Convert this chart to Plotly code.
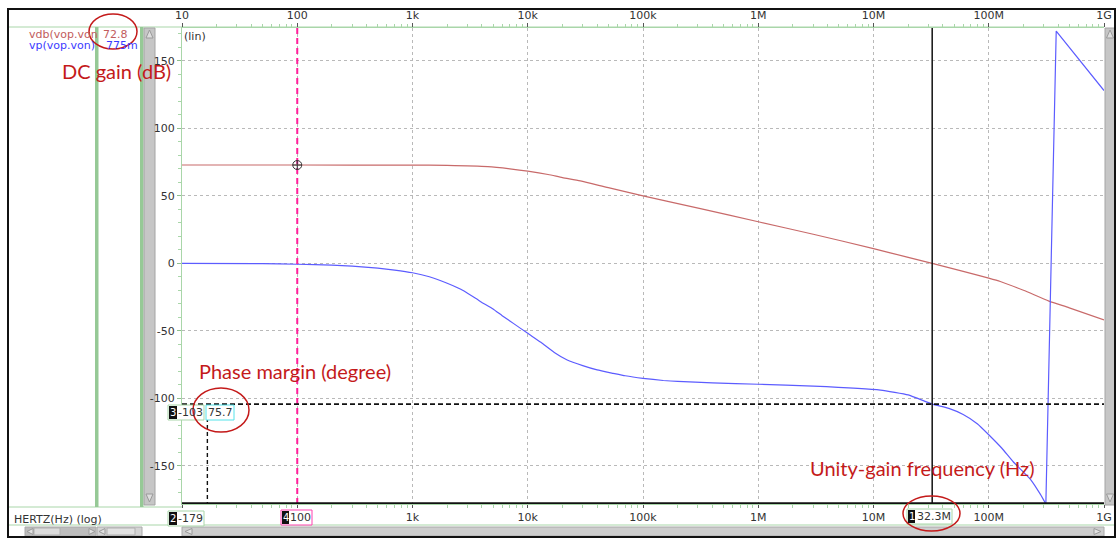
import plotly.graph_objects as go

# ---------------- data ----------------
freq_db = [10, 100, 1e3, 2e3, 4.5e3, 7e3, 1e4, 1.5e4, 2e4, 2.86e4, 5e4, 1e5, 3.15e5, 1e6,
           3e6, 1e7, 2e7, 3.23e7, 6e7, 1e8, 1.26e8, 2e8, 3.33e8, 5e8, 1e9]
vdb = [72.8, 72.8, 72.75, 72.5, 71.6, 70.0, 68.3, 65.8, 63.5, 61.0, 56.0, 50.0, 40.5, 30.8,
       21.5, 10.9, 4.4, 0.0, -6.0, -11.0, -13.5, -20.0, -28.0, -33.0, -42.0]

freq_ph = [10, 50, 100, 200, 300, 500, 700, 1e3, 1.4e3, 2e3, 2.8e3, 3.9e3, 5e3, 6e3, 7.5e3,
           1e4, 1.3e4, 1.7e4, 2.2e4, 3e4, 4e4, 5.5e4, 7e4, 1e5, 1.5e5, 2e5, 4e5, 1e6, 3e6,
           1.15e7, 2e7, 3.23e7, 4.5e7, 6e7, 8e7, 1e8, 1.3e8, 1.63e8, 2.3e8, 2.8e8, 3.13e8,
           3.85e8, 1e9]
vp = [0.0, -0.3, -0.7, -1.3, -2.1, -3.6, -5.0, -7.0, -10.0, -14.8, -20.5, -28.4, -33.8,
      -38.8, -44.5, -51.9, -58.5, -66.0, -71.6, -75.8, -79.0, -81.5, -83.3, -85.2, -86.8,
      -87.5, -88.6, -89.6, -91.0, -93.9, -97.5, -104.3, -107.5, -112.0, -119.0, -127.0,
      -137.0, -147.0, -160.0, -171.0, -178.3, 172.0, 128.0]
wrap_index = 40   # last sample before the phase wraps from -180 to +180

x_tick_vals = [1e1, 1e2, 1e3, 1e4, 1e5, 1e6, 1e7, 1e8, 1e9]
x_tick_text = ["10", "100", "1k", "10k", "100k", "1M", "10M", "100M", "1G"]
y_tick_vals = [-150, -100, -50, 0, 50, 100, 150]
y_tick_text = ["-150", "-100", "-50", "0", "50", "100", "150"]

cursor_freq = 100            # cursor 4 (vertical, magenta)
ugf_freq = 32.3e6            # cursor 1 (vertical, black)
pm_phase = -104.3            # cursor 3 (horizontal, dashed)
bottom_cursor = -177.8       # cursor 2 (horizontal, solid)
delta_freq = 16.6            # dashed delta marker
dc_gain = 72.8

Y_MIN, Y_MAX = -178.3, 174.3

# ---------------- geometry helpers (pixels -> paper) ----------------
L, R, T, B = 182, 1104, 28, 504
def px(x):
    return (x - L) / (R - L)
def py(y):
    return (B - y) / (B - T)

GREEN = "#a9d6a9"
GREEN_BAR = "#96c996"
TXT = "#333333"
RED_NOTE = "#c41a1a"
GUI_FONT = "DejaVu Sans"
BLUE = "#5c5cff"

fig = go.Figure()

fig.add_trace(go.Scatter(x=freq_db, y=vdb, mode="lines", line_shape="spline",
                         line=dict(color="#c86a6a", width=1.2, smoothing=0.6), hoverinfo="skip"))
fig.add_trace(go.Scatter(x=freq_ph[:wrap_index + 1], y=vp[:wrap_index + 1], mode="lines",
                         line_shape="spline",
                         line=dict(color=BLUE, width=1.2, smoothing=0.4), hoverinfo="skip"))
fig.add_trace(go.Scatter(x=freq_ph[wrap_index:], y=vp[wrap_index:], mode="lines",
                         line=dict(color=BLUE, width=1.2), hoverinfo="skip"))
# cursors
fig.add_trace(go.Scatter(x=[cursor_freq, cursor_freq], y=[Y_MIN, Y_MAX], mode="lines",
                         line=dict(color="#ff1e9a", width=2, dash="6px,4px")))
fig.add_trace(go.Scatter(x=[ugf_freq, ugf_freq], y=[Y_MIN, Y_MAX], mode="lines",
                         line=dict(color="#111111", width=1.5)))
fig.add_trace(go.Scatter(x=[x_tick_vals[0], x_tick_vals[-1]], y=[pm_phase, pm_phase],
                         mode="lines", line=dict(color="#111111", width=1.6, dash="5px,3px")))
fig.add_trace(go.Scatter(x=[delta_freq, delta_freq], y=[pm_phase, bottom_cursor],
                         mode="lines", line=dict(color="#111111", width=1.4, dash="4px,3px")))
fig.add_trace(go.Scatter(x=[x_tick_vals[0], x_tick_vals[-1]], y=[bottom_cursor, bottom_cursor],
                         mode="lines", line=dict(color="#111111", width=2.2)))
fig.add_trace(go.Scatter(x=[cursor_freq], y=[dc_gain], mode="markers",
                         marker=dict(symbol="circle-cross-open", size=9,
                                     color="#333333", line=dict(width=1))))
# dummy trace for top axis
fig.add_trace(go.Scatter(x=[x_tick_vals[0]], y=[0], xaxis="x2", mode="markers",
                         marker=dict(opacity=0), hoverinfo="skip"))

minor_vals = [d * m for d in x_tick_vals[:-1] for m in range(2, 10)]

shapes = []
def rect(x0, y0, x1, y1, fill=None, line=None, lw=1, layer="below"):
    shapes.append(dict(type="rect", xref="paper", yref="paper", layer=layer,
                       x0=px(x0), x1=px(x1), y0=py(y1), y1=py(y0),
                       fillcolor=fill if fill else "rgba(0,0,0,0)",
                       line=dict(color=line if line else "rgba(0,0,0,0)", width=lw if line else 0)))
def hline(x0, x1, y, color, w=1):
    shapes.append(dict(type="line", xref="paper", yref="paper", layer="below",
                       x0=px(x0), x1=px(x1), y0=py(y), y1=py(y), line=dict(color=color, width=w)))
def tri(pts, fill):
    path = "M " + " L ".join(f"{px(a)},{py(b)}" for a, b in pts) + " Z"
    shapes.append(dict(type="path", xref="paper", yref="paper", path=path, layer="below",
                       fillcolor=fill, line=dict(color="#9a9a9a", width=1)))
def ellipse(x0, y0, x1, y1):
    shapes.append(dict(type="circle", xref="paper", yref="paper", layer="above",
                       x0=px(x0), x1=px(x1), y0=py(y1), y1=py(y0),
                       line=dict(color=RED_NOTE, width=1.5)))

# GUI chrome
hline(9, 1104, 27, GREEN)
hline(9, 182, 507, GREEN)
hline(9, 1115, 525, GREEN)
rect(95, 27, 98.5, 507, fill=GREEN_BAR)
rect(140, 27, 143.5, 507, fill=GREEN_BAR)
# left vertical scrollbar
rect(144, 28, 155, 505, fill="#c6c6c6", line="#a4a4a4")
tri([(146, 38), (153, 38), (149.5, 30)], "#dedede")
tri([(146, 494), (153, 494), (149.5, 502)], "#dedede")
# right vertical scrollbar
rect(1105, 28, 1115, 505, fill="#c6c6c6", line="#a4a4a4")
tri([(1106.5, 38), (1113.5, 38), (1110, 30)], "#dedede")
tri([(1106.5, 494), (1113.5, 494), (1110, 502)], "#dedede")
# bottom scrollbars
rect(182, 527, 1104, 536, fill="#cdcdcd", line="#aaaaaa")
tri([(192, 528.5), (192, 534.5), (185, 531.5)], "#e2e2e2")
tri([(1094, 528.5), (1094, 534.5), (1101, 531.5)], "#e2e2e2")
rect(25, 527, 96, 536, fill="#bdbdbd", line="#aaaaaa")
rect(34, 528, 60, 535, fill="#dcdcdc", line="#b0b0b0")
tri([(33, 528.5), (33, 534.5), (27, 531.5)], "#e2e2e2")
tri([(89, 528.5), (89, 534.5), (95, 531.5)], "#e2e2e2")
rect(97, 527, 142, 536, fill="#d4d4d4", line="#aaaaaa")
rect(107, 528, 135, 535, fill="#e2e2e2", line="#b0b0b0")
tri([(105, 528.5), (105, 534.5), (99, 531.5)], "#e2e2e2")
# outer frame
rect(8, 9, 1115, 537, line="#111111", lw=2, layer="above")

# cursor value boxes
def box(x0, y0, x1, y1, border):
    rect(x0, y0, x1, y1, fill="white", line=border, layer="above")
def blk(x0, y0, x1, y1):
    rect(x0, y0, x1, y1, fill="#111111", layer="above")

box(168, 405, 204, 420, GREEN); blk(169, 406, 177, 419)
box(206, 405, 234, 420, "#55e3ea")
box(168, 511, 204, 526, GREEN); blk(169, 512, 177, 525)
box(281, 510, 312, 525, "#ff40b0"); blk(282, 511, 289, 524)
box(907, 509, 952, 524, GREEN); blk(908, 510, 915, 523)

# red notes ellipses
ellipse(89, 14, 137, 49)
ellipse(193, 388, 249, 432)
ellipse(903, 496, 960, 531)

ann = []
def text(x, y, s, color=TXT, size=11, anchor="left", family=GUI_FONT):
    ann.append(dict(xref="paper", yref="paper", x=px(x), y=py(y), text=s, showarrow=False,
                    xanchor=anchor, yanchor="middle",
                    font=dict(family=family, size=size, color=color)))

text(27, 35, "vdb(vop.von", color="#c25c5c")
text(101, 35, "72.8", color="#c25c5c")
text(27, 46, "vp(vop.von)", color="#3b3bff")
text(104, 46, "775m", color="#3b3bff")
text(182, 36, "(lin)")
text(12, 519, "HERTZ(Hz) (log)")
text(173, 412.5, "3", color="white", anchor="center", size=10)
text(190.5, 412.5, "-103", anchor="center")
text(220, 412.5, "75.7", anchor="center")
text(173, 518.5, "2", color="white", anchor="center", size=10)
text(190.5, 518.5, "-179", anchor="center")
text(285.5, 517.5, "4", color="white", anchor="center", size=10)
text(300.5, 517.5, "100", anchor="center")
text(911.5, 516.5, "1", color="white", anchor="center", size=10)
text(933.5, 516.5, "32.3M", anchor="center")
text(116, 71, "DC gain (dB)", color=RED_NOTE, size=20, anchor="center", family="Lato")
text(295, 371, "Phase margin (degree)", color=RED_NOTE, size=20, anchor="center", family="Lato")
text(922, 468, "Unity-gain frequency (Hz)", color=RED_NOTE, size=20, anchor="center", family="Lato")

tick_font = dict(family=GUI_FONT, size=11, color=TXT)

fig.update_layout(
    width=1116, height=539,
    margin=dict(l=L, r=1116 - R, t=T, b=539 - B),
    paper_bgcolor="white", plot_bgcolor="white",
    showlegend=False,
    shapes=shapes, annotations=ann,
    xaxis=dict(type="log", range=[1, 9], tickmode="array", tickvals=x_tick_vals,
               ticktext=["", ""] + x_tick_text[2:], ticks="outside", ticklen=3,
               tickcolor="#555555", tickfont=tick_font, showline=True, linecolor=GREEN,
               showgrid=True, gridcolor="#b9b9b9", griddash="dot", gridwidth=1,
               zeroline=False, automargin=False,
               minor=dict(tickmode="array", tickvals=minor_vals, ticks="outside",
                          ticklen=3, tickcolor=GREEN, showgrid=False)),
    xaxis2=dict(type="log", range=[1, 9], overlaying="x", side="top", anchor="y",
                tickmode="array", tickvals=x_tick_vals, ticktext=x_tick_text,
                ticks="outside", ticklen=4, tickcolor="#555555", tickfont=tick_font,
                showline=True, linecolor=GREEN, showgrid=False, zeroline=False,
                automargin=False,
                minor=dict(tickmode="array", tickvals=minor_vals, ticks="outside",
                           ticklen=3, tickcolor=GREEN, showgrid=False)),
    yaxis=dict(range=[Y_MIN, Y_MAX], tickmode="array", tickvals=y_tick_vals,
               ticktext=y_tick_text,
               ticks="outside", ticklen=4, tickcolor="#8fbf8f", tickfont=tick_font,
               showline=True, linecolor=GREEN, showgrid=True, gridcolor="#b9b9b9",
               griddash="dot", zeroline=False, automargin=False,
               minor=dict(dtick=10, ticks="outside", ticklen=3, tickcolor=GREEN,
                          showgrid=False)),
)

post = ("document.documentElement.style.margin='0';document.body.style.margin='0';"
        "document.body.style.padding='0';document.documentElement.style.overflow='hidden';"
        "document.body.style.overflow='hidden';"
        "var gd=document.getElementById('{plot_id}');"
        "if(gd&&gd.parentElement){gd.parentElement.style.height='539px';"
        "gd.parentElement.style.overflow='hidden';}")

fig.write_html("out.html", config={"displayModeBar": False}, post_script=post)
